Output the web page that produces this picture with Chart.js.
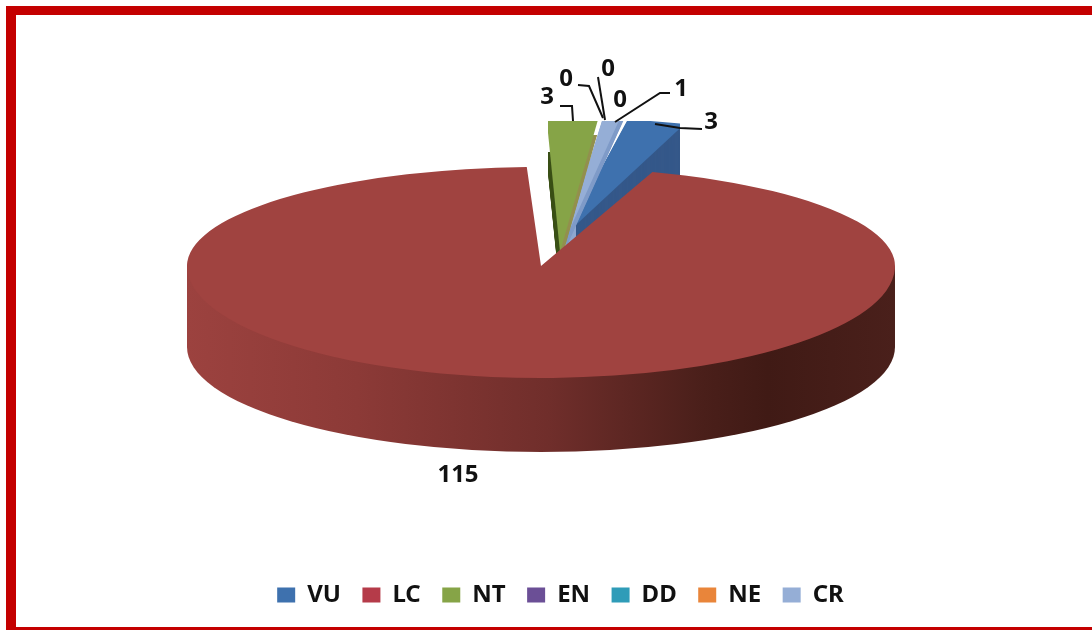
<!DOCTYPE html>
<html>
<head>
<meta charset="utf-8">
<style>
  html, body { margin: 0; padding: 0; background: #fff; }
  #wrap { width: 1092px; height: 630px; }
</style>
<script src="https://cdn.jsdelivr.net/npm/chart.js@4"></script>
</head>
<body>
<div id="wrap"><canvas id="pie" width="1092" height="630"></canvas></div>
<script>
// Red List category counts
const categories = ['VU', 'LC', 'NT', 'EN', 'DD', 'NE', 'CR'];
const counts = [3, 115, 3, 0, 0, 0, 1];
const faceColors = ['#3e71ae', '#a04340', '#86a447', '#6b4f96', '#2f9cb8', '#e9853a', '#95aed6'];
const legendColors = ['#3e71ae', '#b53b49', '#86a447', '#6b4f96', '#2f9cb8', '#e9853a', '#95aed6'];

const LABEL_FONT = '700 24px "Noto Sans", sans-serif';
const INK = '#111';
const ANY = { left: 0, top: 0, right: 1092, bottom: 630 };

// Each slice has its own projection: anchor (ax, ay), half axes, and the walls swept below it.
const projection = {
  VU: { ax: 565, ay: 235, rx: 380, up: 117, down: 117,
        walls: [{ depth: 74, color: '#35598a', clip: { ...ANY, left: 575 } }] },
  LC: { ax: 541, ay: 266, rx: 354, up: 99, down: 112, rimY: 347, rimRy: 105, walls: [] },
  NT: { ax: 560, ay: 252, rx: 475, up: 190, down: 190,
        walls: [
          { depth: 40, color: '#3c5119', clip: { ...ANY, top: 152, right: 560 } },
          { depth: 12, color: '#93904f', clip: { ...ANY, top: 135, left: 560 } }
        ] },
  CR: { ax: 565, ay: 240, rx: 424, up: 157, down: 157,
        walls: [
          { depth: 40, color: '#8fa8d0', clip: { ...ANY, top: 205, right: 576 } },
          { depth: 10, color: '#7f9bc8', clip: ANY }
        ] }
};
const DRAW_ORDER = ['VU', 'CR', 'NT', 'LC'];
// The pulled-out slices stop at this rectangle.
const PLOT_CLIP = { left: 548, top: 121, right: 680, bottom: 470 };

// Where each value label sits, and the elbow of its leader line.
const labelLayout = {
  VU: { x: 711, y: 122, line: [[702, 129], [680, 128], [655, 124]] },
  LC: { x: 458, y: 475, line: [] },
  NT: { x: 547, y: 97, line: [[560, 106], [572, 106], [573, 121]] },
  EN: { x: 566, y: 79, line: [[578, 85], [589, 86], [603, 118]] },
  DD: { x: 608, y: 69, line: [[598, 77], [605, 120]] },
  NE: { x: 620, y: 100, line: [] },
  CR: { x: 681, y: 89, line: [[670, 93], [660, 93], [615, 122]] }
};

function clipRect(ctx, r) {
  ctx.beginPath();
  ctx.rect(r.left, r.top, r.right - r.left, r.bottom - r.top);
  ctx.clip();
}

function placeSlice(ctx, arc, p, half, shiftY) {
  const r = arc.outerRadius;
  ctx.translate(p.ax, p.ay + shiftY);
  ctx.scale(p.rx / r, (half === 'down' ? p.down : p.up) / r);
  ctx.translate(-arc.x, -arc.y);
}

// Draws the library's arc element through the slice projection, upper and lower half separately.
function drawFace(ctx, arc, p, shiftY, color) {
  for (const half of ['up', 'down']) {
    ctx.save();
    ctx.beginPath();
    if (half === 'up') ctx.rect(0, 0, 1092, p.ay + shiftY);
    else ctx.rect(0, p.ay + shiftY, 1092, 630);
    ctx.clip();
    placeSlice(ctx, arc, p, half, shiftY);
    if (color) {
      const keep = arc.options;
      arc.options = Object.assign({}, keep, { backgroundColor: color, borderColor: color });
      arc.draw(ctx);
      arc.options = keep;
    } else {
      arc.draw(ctx);
    }
    ctx.restore();
  }
}

// Sweeps a slice downward to build the walls of its radial cuts.
function drawSweptWall(ctx, arc, p, wall) {
  ctx.save();
  clipRect(ctx, wall.clip);
  for (let s = wall.depth; s >= 1; s--) drawFace(ctx, arc, p, s, wall.color);
  ctx.restore();
}

function drawRimWall(ctx, p) {
  const g = ctx.createLinearGradient(p.ax - p.rx, 0, p.ax + p.rx, 0);
  g.addColorStop(0, '#9c423f');
  g.addColorStop(0.24, '#8c3a37');
  g.addColorStop(0.51, '#702e2b');
  g.addColorStop(0.73, '#4a1f1a');
  g.addColorStop(0.82, '#401a15');
  g.addColorStop(1, '#4a201b');
  ctx.beginPath();
  ctx.moveTo(p.ax + p.rx, p.ay);
  ctx.lineTo(p.ax + p.rx, p.rimY);
  ctx.ellipse(p.ax, p.rimY, p.rx, p.rimRy, 0, 0, Math.PI);
  ctx.lineTo(p.ax - p.rx, p.ay);
  ctx.closePath();
  ctx.fillStyle = g;
  ctx.fill();
}

const exploded3d = {
  id: 'exploded3d',
  beforeDraw(chart) {
    const ctx = chart.ctx;
    ctx.save();
    ctx.fillStyle = '#fff';
    ctx.fillRect(0, 0, 1092, 630);
    // Card frame: top, left and bottom bands
    ctx.fillStyle = '#c40000';
    ctx.fillRect(6, 6, 1086, 9);
    ctx.fillRect(6, 6, 10, 624);
    ctx.fillRect(6, 627, 1086, 3);
    ctx.restore();
  },
  beforeDatasetDraw(chart) {
    const ctx = chart.ctx;
    const arcs = chart.getDatasetMeta(0).data;
    for (const name of DRAW_ORDER) {
      const arc = arcs[categories.indexOf(name)];
      const p = projection[name];
      ctx.save();
      if (name === 'LC') {
        drawRimWall(ctx, p);
      } else {
        clipRect(ctx, PLOT_CLIP);
        p.walls.forEach(w => drawSweptWall(ctx, arc, p, w));
      }
      drawFace(ctx, arc, p, 0);
      ctx.restore();
    }
    return false;
  },
  afterDatasetsDraw(chart) {
    const ctx = chart.ctx;
    const values = chart.data.datasets[0].data;
    ctx.save();
    ctx.strokeStyle = INK;
    ctx.lineWidth = 2;
    ctx.fillStyle = INK;
    ctx.font = LABEL_FONT;
    ctx.textAlign = 'center';
    ctx.textBaseline = 'middle';
    categories.forEach((name, i) => {
      const l = labelLayout[name];
      if (l.line.length) {
        ctx.beginPath();
        l.line.forEach(([x, y], k) => (k ? ctx.lineTo(x, y) : ctx.moveTo(x, y)));
        ctx.stroke();
      }
      ctx.fillText(String(values[i]), l.x, l.y);
    });
    ctx.restore();
  }
};

new Chart(document.getElementById('pie'), {
  type: 'pie',
  data: {
    labels: categories,
    datasets: [{
      data: counts,
      backgroundColor: faceColors,
      borderWidth: 0
    }]
  },
  options: {
    responsive: false,
    animation: false,
    rotation: 9.5,
    layout: { padding: { left: 29, bottom: 13, top: 20, right: 0 } },
    plugins: {
      tooltip: { enabled: false },
      legend: {
        position: 'bottom',
        labels: {
          boxWidth: 18,
          boxHeight: 15,
          padding: 21.5,
          color: INK,
          font: { family: '"Noto Sans", sans-serif', size: 24, weight: '700' },
          generateLabels(chart) {
            const base = Chart.overrides.pie.plugins.legend.labels.generateLabels(chart);
            return base.map((item, i) => Object.assign(item, { fillStyle: legendColors[i], hidden: false }));
          }
        }
      }
    }
  },
  plugins: [exploded3d]
});
</script>
</body>
</html>
